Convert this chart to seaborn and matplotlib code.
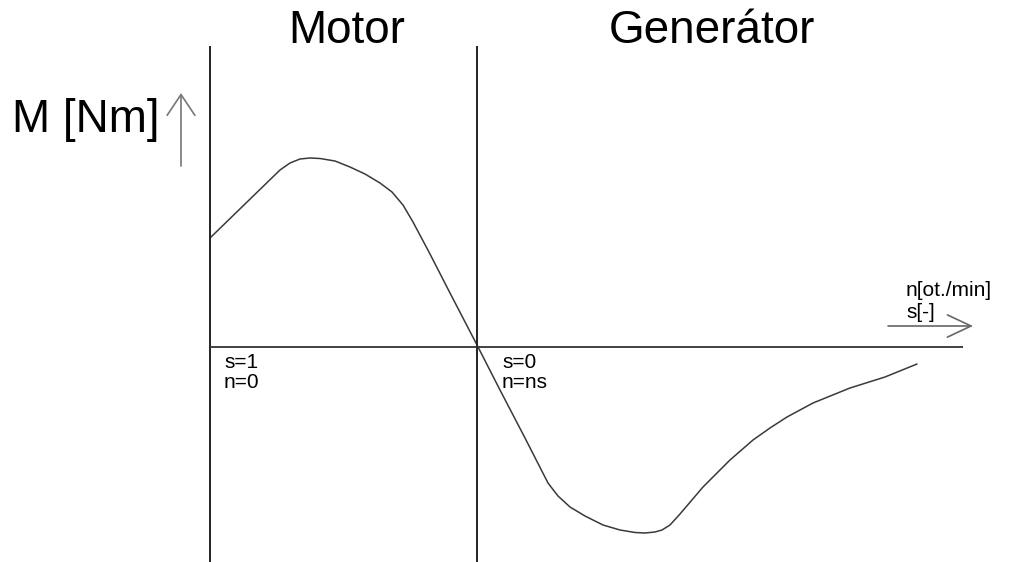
import matplotlib
matplotlib.use("Agg")
import matplotlib.pyplot as plt
import seaborn as sns
import pandas as pd

# torque curve (x = speed axis units, M = torque units)
curve_x = [210, 245, 280, 290, 300, 310, 320, 335, 350, 365, 380, 392, 403, 413,
           430, 450, 477, 500, 525, 548, 558, 570, 585, 603, 620, 635, 645, 655,
           662, 670, 680, 703, 730, 753, 770, 787, 813, 850, 885, 917]
curve_m = [109, 143, 177, 184, 188, 189, 188.5, 186, 180, 173, 164, 155, 142, 125,
           93, 54, 2, -43, -91, -136, -149, -160, -169, -178, -183, -185.5, -186, -185,
           -183, -178, -167, -140, -113, -93, -81, -70, -56, -41, -30, -17]

# frame of the diagram
motor_x = 210
sync_x = 477
axis_end = 963
line_top = 301
line_bottom = -215

titles = ["Motor", "Generátor"]
title_x = [347, 712]

s_labels = ["s=1", "s=0"]
n_labels = ["n=0", "n=ns"]
label_x = [224, 502]

sns.set_style("white")
plt.rcParams['font.family'] = ['Liberation Sans', 'DejaVu Sans']

fig = plt.figure(figsize=(10.14, 5.62), dpi=100)
ax = fig.add_axes([0, 0, 1, 1])
ax.set_xlim(0, 1014)
ax.set_ylim(-215, 347)
ax.axis("off")

df = pd.DataFrame({"n": curve_x, "M": curve_m})
sns.lineplot(data=df, x="n", y="M", sort=False, color="#3a3a3a", lw=1.1, ax=ax)

ax.vlines([motor_x, sync_x], line_bottom, line_top, color="#222222", lw=1.4)
ax.hlines(0, motor_x, axis_end, color="#333333", lw=1.3)

for t, x in zip(titles, title_x):
    ax.text(x, 304, t, ha="center", va="baseline", fontsize=33, color="black")

ax.text(12, 215, "M [Nm]", ha="left", va="baseline", fontsize=33, color="black")

for s, n, x in zip(s_labels, n_labels, label_x):
    ax.text(x, -15, s, ha="left", va="center", fontsize=15, color="black")
    ax.text(x, -35, n, ha="left", va="center", fontsize=15, color="black")

ax.text(906, 57, "n[ot./min]", ha="left", va="center", fontsize=15, color="black")
ax.text(906, 35, "s[-]", ha="left", va="center", fontsize=15, color="black")

# axis arrows
ax.annotate("", xy=(181, 254), xytext=(181, 181),
            arrowprops=dict(arrowstyle="->,head_length=1.5,head_width=1.0",
                            color="#777777", lw=1.2, shrinkA=0, shrinkB=0))
ax.annotate("", xy=(973, 21), xytext=(888, 21),
            arrowprops=dict(arrowstyle="->,head_length=1.7,head_width=0.8",
                            color="#666666", lw=1.2, shrinkA=0, shrinkB=0))

fig.savefig("out.png", dpi=100, facecolor="white")
